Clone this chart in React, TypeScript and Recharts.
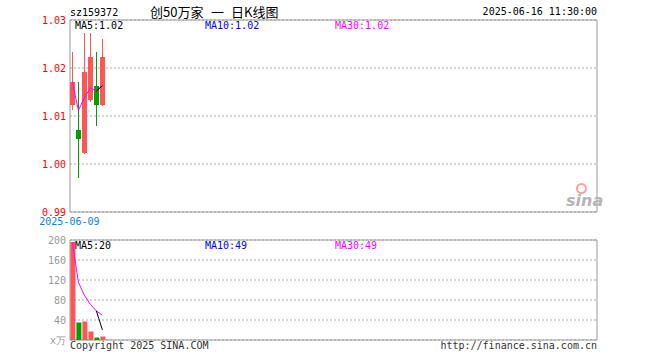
import {
  Bar,
  CartesianGrid,
  Cell,
  ComposedChart,
  Line,
  ReferenceArea,
  XAxis,
  YAxis,
} from "recharts";

// daily K line, 159372 — only six sessions so far, the rest of the axis is empty
const dates = ["2025-06-09", "2025-06-10", "2025-06-11", "2025-06-12", "2025-06-13", "2025-06-16"];
const opens = [1.0123, 1.0071, 1.0023, 1.0134, 1.0162, 1.0123];
const closes = [1.0171, 1.0052, 1.0192, 1.0222, 1.0123, 1.0222];
const highs = [1.0233, 1.0171, 1.0272, 1.0272, 1.0233, 1.0261];
const lows = [1.0113, 0.997, 1.0021, 1.013, 1.008, 1.0121];
const priceMa5 = [null, null, null, null, 1.0152, 1.0163];
const priceMa30 = [1.0171, 1.0112, 1.0138, 1.0159, 1.0152, 1.0164];

const volumes = [196, 35, 37, 17, 5, 7];
const volMa5 = [null, null, null, null, 58, 20.2];
const volMa30 = [196, 115.5, 89.3, 71.3, 58, 49.5];

const priceTicks = [0.99, 1.0, 1.01, 1.02, 1.03];
const volTicks = [0, 40, 80, 120, 160, 200];

const SLOTS = 87.8; // width of the x axis in sessions
const RED = "#ff5555";
const GREEN = "#00a000";
const MONO = "'DejaVu Sans Mono', monospace";
const CJK = "'Noto Sans CJK SC', sans-serif";

const rows = dates.map((d, i) => ({
  i,
  date: d,
  open: opens[i],
  close: closes[i],
  high: highs[i],
  low: lows[i],
  ma5: priceMa5[i],
  ma30: priceMa30[i],
  vol: volumes[i],
  vma5: volMa5[i],
  vma30: volMa30[i],
}));

function Candle(props: any) {
  let { x, y, width, height, payload } = props;
  if (height < 0) {
    y += height;
    height = -height;
  }
  const { open, close, high, low } = payload;
  const color = close >= open ? RED : GREEN;
  const ratio = height / (high - low);
  const py = (v: number) => y + (high - v) * ratio;
  const top = py(Math.max(open, close));
  const bot = py(Math.min(open, close));
  const bx = Math.round(x);
  const cx = bx + 2.5;
  return (
    <g shapeRendering="crispEdges">
      <line x1={cx} x2={cx} y1={y} y2={y + height} stroke={color} strokeWidth={1} />
      <rect x={bx} y={top} width={width} height={Math.max(1, bot - top)} fill={color} />
    </g>
  );
}

function Txt({ x, y, color, children, size = 10, font = MONO, right }: any) {
  return (
    <div
      style={{
        position: "absolute",
        top: y,
        ...(right ? { right: 660 - x } : { left: x }),
        fontFamily: font,
        fontSize: size,
        lineHeight: 1,
        color,
        whiteSpace: "pre",
      }}
    >
      {children}
    </div>
  );
}

const tickStyle = { fontSize: 10, fontFamily: MONO };

export default function App() {
  return (
    <div style={{ position: "absolute", left: 0, top: 0, width: 660, height: 360, background: "#fff", overflow: "hidden" }}>
      {/* header */}
      <Txt x={70} y={8} color="#000">sz159372</Txt>
      <Txt x={150} y={5} color="#000" size={13} font={CJK}>创50万家</Txt>
      <Txt x={211} y={5} color="#000" size={13} font={CJK}>一</Txt>
      <Txt x={231} y={5} color="#000" size={13} font={CJK}>日K线图</Txt>
      <Txt x={597} y={7} color="#000" right>2025-06-16 11:30:00</Txt>

      <div style={{ position: "absolute", left: 0, top: 0 }}>
        <ComposedChart width={660} height={230} data={rows} margin={{ top: 20, right: 63, bottom: 0, left: 0 }}>
          <CartesianGrid horizontal vertical={false} stroke="#aaa" strokeDasharray="2 2" />
          <XAxis
            type="number"
            dataKey="i"
            domain={[-0.4, SLOTS - 0.4]}
            ticks={[0]}
            tickFormatter={(v: number) => dates[v]}
            axisLine={false}
            tickLine={false}
            tickSize={2}
            tickMargin={4}
            height={18}
            tick={{ ...tickStyle, fill: "#0a7fe0", dx: -3 }}
            interval={0}
          />
          <YAxis
            type="number"
            domain={[0.99, 1.03]}
            ticks={priceTicks}
            allowDataOverflow
            tickFormatter={(v: number) => v.toFixed(2)}
            width={70}
            axisLine={false}
            tickLine={false}
            tickSize={2}
            tickMargin={2}
            tick={{ ...tickStyle, fill: "#f00" }}
            interval={0}
          />
          <Bar dataKey={(d: any) => [d.low, d.high]} barSize={5} shape={<Candle />} isAnimationActive={false} />
          <Line dataKey="ma30" stroke="#ff00ff" strokeWidth={1} dot={false} isAnimationActive={false} />
          <Line dataKey="ma5" stroke="#000" strokeWidth={1} dot={false} connectNulls={false} isAnimationActive={false} />
          <ReferenceArea x1={-0.4} x2={SLOTS - 0.4} y1={0.99} y2={1.03} fill="none" stroke="#999" strokeWidth={1} />
        </ComposedChart>
      </div>

      <div style={{ position: "absolute", left: 0, top: 230 }}>
        <ComposedChart width={660} height={130} data={rows} margin={{ top: 10, right: 63, bottom: 20, left: 0 }}>
          <CartesianGrid horizontal vertical={false} stroke="#aaa" strokeDasharray="2 2" />
          <XAxis type="number" dataKey="i" domain={[-0.4, SLOTS - 0.4]} hide />
          <YAxis
            type="number"
            domain={[0, 200]}
            ticks={volTicks}
            allowDataOverflow
            tickFormatter={(v: number) => (v === 0 ? "x万" : String(v))}
            width={70}
            axisLine={false}
            tickLine={false}
            tickSize={2}
            tickMargin={2}
            tick={{ ...tickStyle, fill: "#999" }}
            interval={0}
          />
          <Bar dataKey="vol" barSize={5} isAnimationActive={false}>
            {rows.map((r) => (
              <Cell key={r.date} fill={r.close >= r.open ? RED : GREEN} />
            ))}
          </Bar>
          <Line dataKey="vma30" stroke="#ff00ff" strokeWidth={1} dot={false} isAnimationActive={false} />
          <Line dataKey="vma5" stroke="#000" strokeWidth={1} dot={false} isAnimationActive={false} />
          <ReferenceArea x1={-0.4} x2={SLOTS - 0.4} y1={0} y2={200} fill="none" stroke="#999" strokeWidth={1} />
        </ComposedChart>
      </div>

      {/* MA legends */}
      <Txt x={75} y={21} color="#000">MA5:1.02</Txt>
      <Txt x={205} y={21} color="#0000ff">MA10:1.02</Txt>
      <Txt x={335} y={21} color="#ff00ff">MA30:1.02</Txt>
      <Txt x={75} y={241} color="#000">MA5:20</Txt>
      <Txt x={205} y={241} color="#0000ff">MA10:49</Txt>
      <Txt x={335} y={241} color="#ff00ff">MA30:49</Txt>

      {/* sina mark */}
      <div style={{ position: "absolute", left: 576, top: 183, width: 7, height: 7, borderRadius: "50%", border: "2px solid #f5a3a3" }} />
      <Txt x={566} y={193} color="#b5b5b5" size={16} font="'DejaVu Sans', sans-serif">
        <span style={{ fontStyle: "italic", fontWeight: 700 }}>sina</span>
      </Txt>

      {/* footer */}
      <Txt x={70} y={341} color="#333">Copyright 2025 SINA.COM</Txt>
      <Txt x={597} y={341} color="#333" right>http://finance.sina.com.cn</Txt>
    </div>
  );
}
